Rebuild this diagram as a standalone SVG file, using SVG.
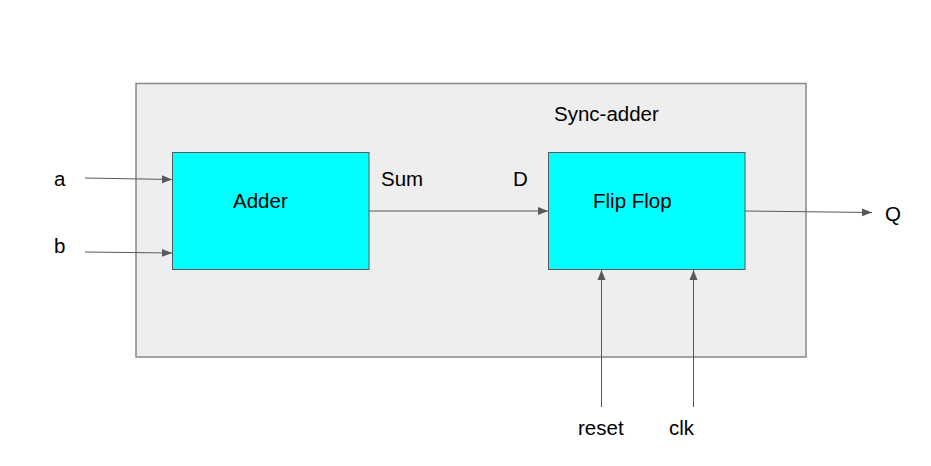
<svg xmlns="http://www.w3.org/2000/svg" width="931" height="466" viewBox="0 0 931 466">
<defs>
<style>
.t{font-family:"Liberation Sans",Arial,sans-serif;font-size:20.5px;fill:#000}
.blk{fill:#00ffff;stroke:#595959;stroke-width:1}
.c{stroke:#595959;stroke-width:1;fill:none;marker-end:url(#ah)}
</style>
<marker id="ah" viewBox="0 0 10 10" refX="10" refY="5" markerWidth="10" markerHeight="10" markerUnits="userSpaceOnUse" orient="auto">
<path d="M0,1 L10,5 L0,9 z" fill="#595959"/>
</marker>
</defs>
<rect width="931" height="466" fill="#fff"/>
<g id="sync-adder">
<rect x="136" y="83.5" width="670" height="273.5" fill="#eeeeee" stroke="#888888" stroke-width="1.5"/>
<text class="t" x="554" y="121">Sync-adder</text>
</g>
<g id="adder">
<rect class="blk" x="172.5" y="152.5" width="196.5" height="117"/>
<text class="t" x="233" y="208">Adder</text>
</g>
<g id="flipflop">
<rect class="blk" x="548.5" y="152.5" width="196.5" height="117"/>
<text class="t" x="593" y="208">Flip Flop</text>
</g>
<g id="connectors">
<line class="c" x1="85" y1="178" x2="172" y2="179.5"/>
<line class="c" x1="85" y1="252" x2="172" y2="253"/>
<line class="c" x1="369" y1="211" x2="548" y2="211"/>
<line class="c" x1="745" y1="211" x2="872" y2="212.5"/>
<line class="c" x1="601.5" y1="407" x2="601.5" y2="270"/>
<line class="c" x1="693.5" y1="407" x2="693.5" y2="270"/>
</g>
<g id="labels">
<text class="t" x="54" y="186">a</text>
<text class="t" x="54" y="253">b</text>
<text class="t" x="381" y="186">Sum</text>
<text class="t" x="513" y="186">D</text>
<text class="t" x="885" y="221">Q</text>
<text class="t" x="578" y="435">reset</text>
<text class="t" x="669" y="435">clk</text>
</g>
</svg>
